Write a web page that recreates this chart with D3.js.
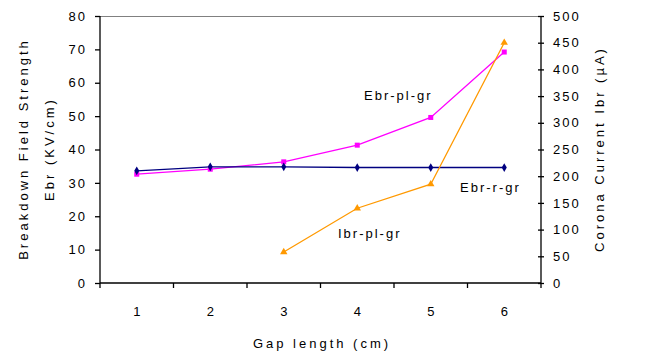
<!DOCTYPE html>
<html>
<head>
<meta charset="utf-8">
<script src="https://cdn.jsdelivr.net/npm/d3@7"></script>
<style>
  body { margin: 0; background: #fff; }
  svg text { font-family: "Liberation Sans", Arial, sans-serif; font-size: 13px; fill: #000; }
</style>
</head>
<body>
<div id="chart"></div>
<script>
// gap length categories
var gaps = [1, 2, 3, 4, 5, 6];
// breakdown field strength, left axis (kV/cm)
var ebrRGr = [33.6, 34.8, 34.8, 34.6, 34.6, 34.6];
var ebrPlGr = [32.6, 34.1, 36.3, 41.3, 49.6, 69.2];
// corona current, right axis (uA), starts at gap 3
var ibrGaps = [3, 4, 5, 6];
var ibrPlGr = [58, 140, 185, 450];
var leftTicks = [0, 10, 20, 30, 40, 50, 60, 70, 80];
var rightTicks = [0, 50, 100, 150, 200, 250, 300, 350, 400, 450, 500];

var width = 652, height = 356;
var plotL = 100, plotR = 541, plotT = 16, plotB = 283;

var svg = d3.select('#chart').append('svg')
  .attr('width', width).attr('height', height);

var x = d3.scaleBand().domain(gaps).range([plotL, plotR]);
var yL = d3.scaleLinear().domain([0, 80]).range([plotB, plotT]);
var yR = d3.scaleLinear().domain([0, 500]).range([plotB, plotT]);
var cx = function(g) { return x(g) + x.bandwidth() / 2; };

// top border of plot area
svg.append('line')
  .attr('x1', plotL).attr('x2', plotR)
  .attr('y1', plotT + 0.5).attr('y2', plotT + 0.5)
  .attr('stroke', '#808080');

// axes
var axL = svg.append('g').attr('transform', 'translate(' + plotL + ',0)')
  .call(d3.axisLeft(yL).tickValues(leftTicks).tickSize(5).tickPadding(8));
var axR = svg.append('g').attr('transform', 'translate(' + plotR + ',0)')
  .call(d3.axisRight(yR).tickValues(rightTicks).tickSize(5));
// right axis ticks cross the line
axR.selectAll('.tick line').attr('x1', -3).attr('x2', 3);
axR.selectAll('.tick text').attr('x', 12);

var axB = svg.append('g').attr('transform', 'translate(0,' + plotB + ')')
  .call(d3.axisBottom(x).tickSize(0).tickPadding(24));
// tick marks between categories
axB.selectAll('.sep')
  .data(d3.range(gaps.length + 1))
  .enter().append('line')
  .attr('class', 'sep')
  .attr('x1', function(i) { return plotL + i * x.bandwidth(); })
  .attr('x2', function(i) { return plotL + i * x.bandwidth(); })
  .attr('y1', 0).attr('y2', 5)
  .attr('stroke', '#000').attr('stroke-width', 1.3);

[axL, axR, axB].forEach(function(a) {
  a.selectAll('path.domain').attr('stroke', '#000').attr('stroke-width', 1.3);
  a.selectAll('.tick line').attr('stroke', '#000').attr('stroke-width', 1.3);
  a.selectAll('.tick text').style('font-size', '13px').style('letter-spacing', '2px')
    .style('font-family', '"Liberation Sans", Arial, sans-serif');
});
axB.selectAll('.tick text').style('letter-spacing', '0px');
axL.selectAll('path.domain').attr('d', 'M0,' + plotT + 'V' + plotB);
axR.selectAll('path.domain').attr('d', 'M0,' + plotT + 'V' + plotB);
axB.selectAll('path.domain').attr('d', 'M' + plotL + ',0H' + plotR);

// series lines
var lineL = d3.line().x(function(d) { return cx(d[0]); }).y(function(d) { return yL(d[1]); });
var lineR = d3.line().x(function(d) { return cx(d[0]); }).y(function(d) { return yR(d[1]); });

var blueData = d3.zip(gaps, ebrRGr);
var pinkData = d3.zip(gaps, ebrPlGr);
var orangeData = d3.zip(ibrGaps, ibrPlGr);

svg.append('path').datum(pinkData).attr('d', lineL)
  .attr('fill', 'none').attr('stroke', '#ff00ff').attr('stroke-width', 1.3);
svg.append('path').datum(blueData).attr('d', lineL)
  .attr('fill', 'none').attr('stroke', '#000080').attr('stroke-width', 1.3);
svg.append('path').datum(orangeData).attr('d', lineR)
  .attr('fill', 'none').attr('stroke', '#ff9900').attr('stroke-width', 1.3);

// markers
svg.selectAll('.sq').data(pinkData).enter().append('rect')
  .attr('x', function(d) { return cx(d[0]) - 2.5; })
  .attr('y', function(d) { return yL(d[1]) - 2.5; })
  .attr('width', 5).attr('height', 5).attr('fill', '#ff00ff');
svg.selectAll('.dm').data(blueData).enter().append('path')
  .attr('d', d3.symbol(d3.symbolDiamond, 22))
  .attr('transform', function(d) { return 'translate(' + cx(d[0]) + ',' + yL(d[1]) + ')'; })
  .attr('fill', '#000080');
svg.selectAll('.tr').data(orangeData).enter().append('path')
  .attr('d', d3.symbol(d3.symbolTriangle, 24))
  .attr('transform', function(d) { return 'translate(' + cx(d[0]) + ',' + yR(d[1]) + ')'; })
  .attr('fill', '#ff9900');

// series labels
var lab = function(px, py, t) {
  svg.append('text').attr('x', px).attr('y', py)
    .style('letter-spacing', '2px').text(t);
};
lab(364, 100, 'Ebr-pl-gr');
lab(460, 192, 'Ebr-r-gr');
lab(338, 238, 'Ibr-pl-gr');

// axis titles
var midY = 149;
var title = function(t, tr) {
  return svg.append('text').attr('transform', tr)
    .attr('text-anchor', 'middle')
    .style('letter-spacing', '3px').text(t);
};
title('Breakdown Field Strength', 'translate(28,' + midY + ') rotate(-90)');
title('Ebr (KV/cm)', 'translate(54,' + midY + ') rotate(-90)');
title('Corona Current Ibr (µA)', 'translate(604,' + midY + ') rotate(-90)');
title('Gap length (cm)', 'translate(322,348)');
</script>
</body>
</html>
